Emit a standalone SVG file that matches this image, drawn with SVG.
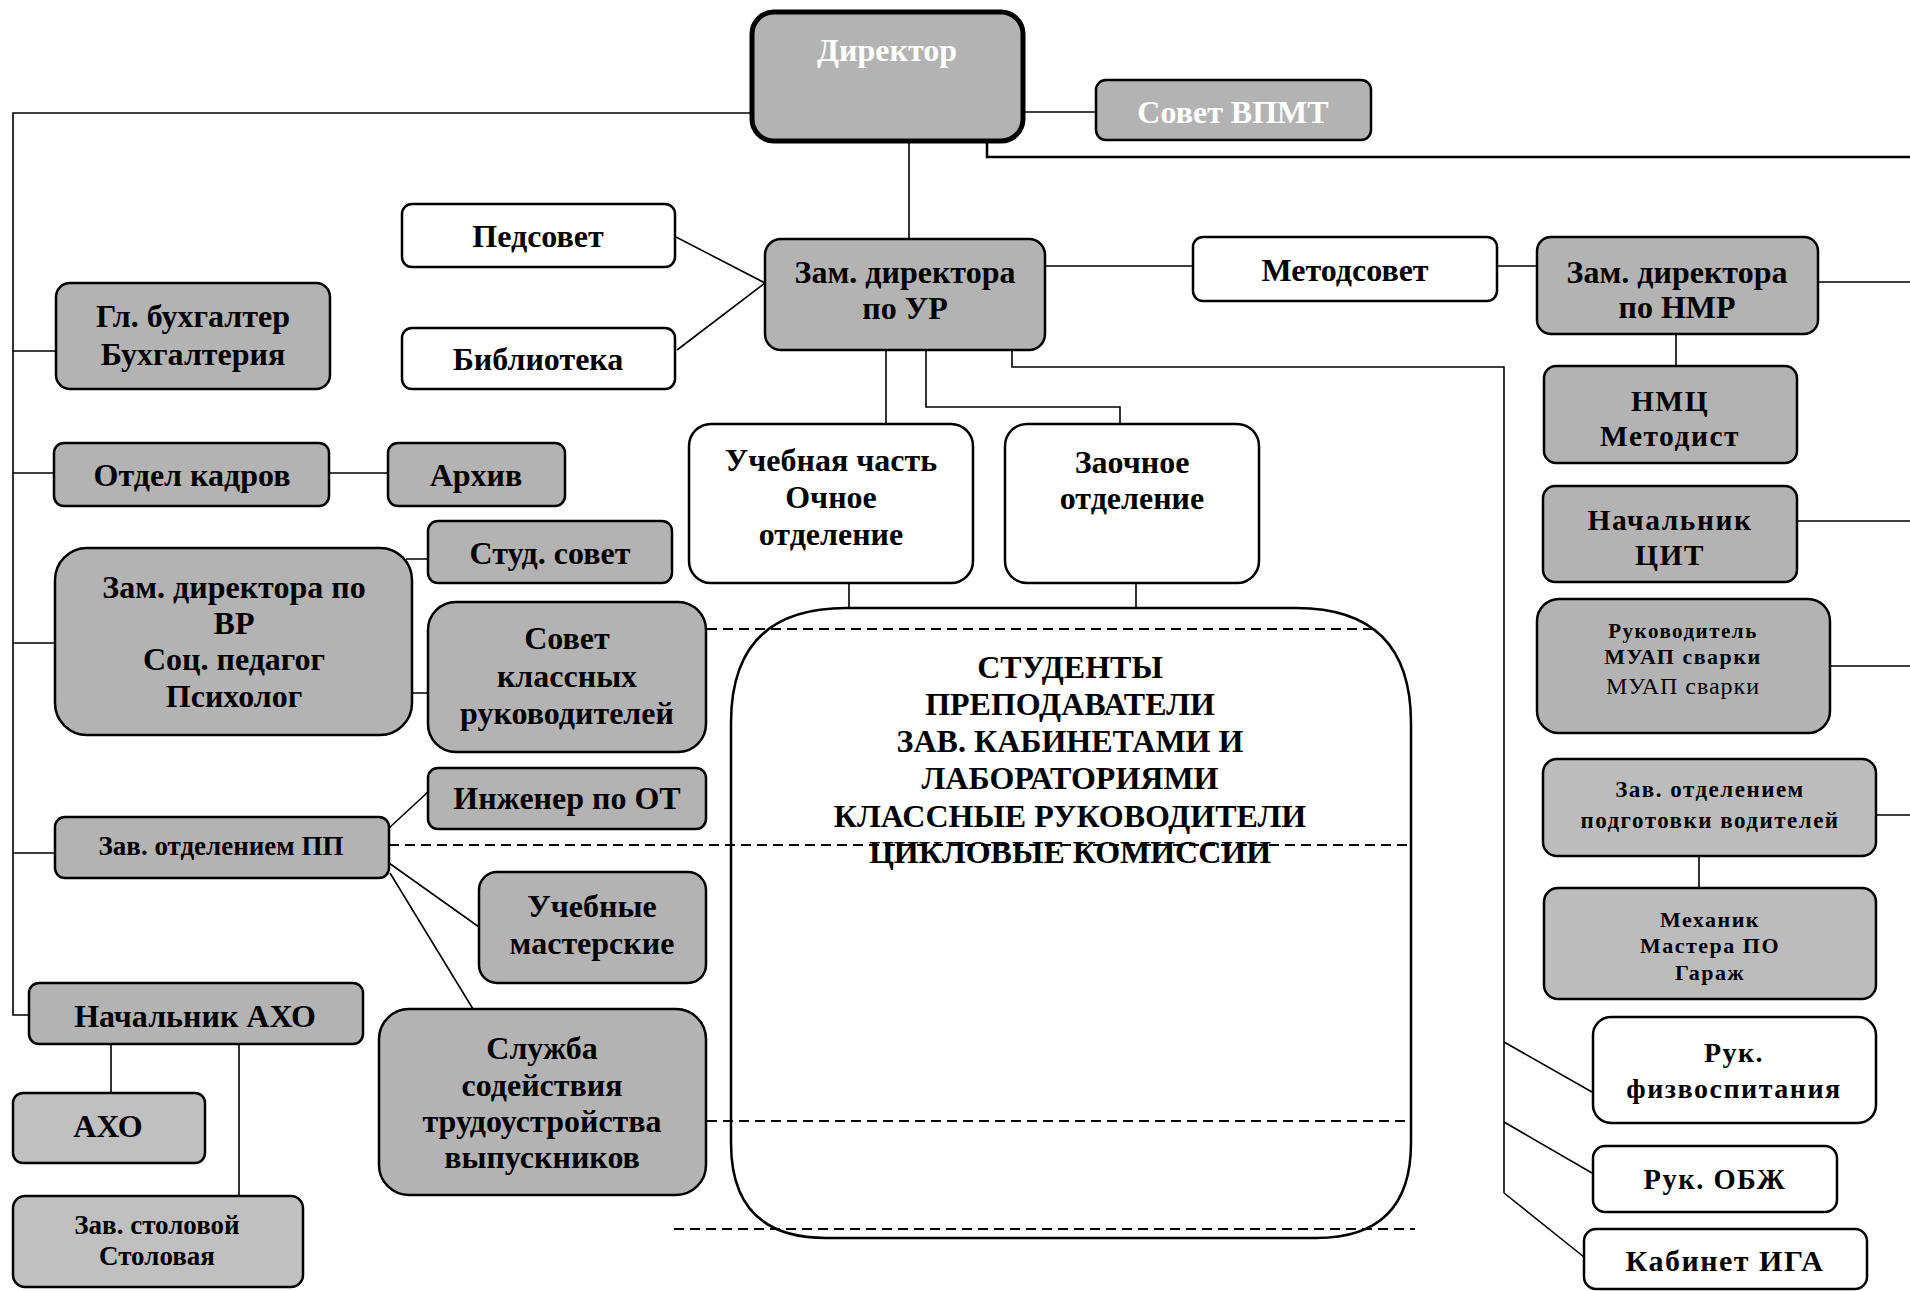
<svg xmlns="http://www.w3.org/2000/svg" width="1910" height="1291" viewBox="0 0 1910 1291">
<style>
.b{stroke:#000;stroke-width:2.5}
.g{fill:#b3b3b3}
.lg{fill:#c0c0c0}
.w{fill:#fff}
.t{font-family:"Liberation Serif","Times New Roman",serif;font-weight:bold;font-size:32px;text-anchor:middle;fill:#000}
.s{font-size:27px}
.r{letter-spacing:1.5px}
.c{stroke:#000;stroke-width:1.6;fill:none}
.d{stroke:#000;stroke-width:2.2;fill:none;stroke-dasharray:10 6}
</style>
<rect width="1910" height="1291" fill="#fff"/>
<g id="connectors">
<path class="c" d="M752 113H13V1015H29"/>
<path class="c" d="M1023 112H1096"/>
<path class="c" d="M987 141V157H1910" style="stroke-width:2.5"/>
<path class="c" d="M909 141V239"/>
<path class="c" d="M676 237L765 283L677 350"/>
<path class="c" d="M1045 266H1193M1497 266H1537M1818 282H1910"/>
<path class="c" d="M1676 334V366"/>
<path class="c" d="M1797 521H1910M1830 666H1910M1876 815H1910M1699 856V888"/>
<path class="c" d="M1012 350V367H1504V1193M1504 1042L1592 1092M1504 1122L1592 1173M1504 1193L1584 1257"/>
<path class="c" d="M886 350V424M926 350V407H1120V424"/>
<path class="c" d="M849 583V608M1136 583V608"/>
<path class="c" d="M13 351H56M13 473H54M329 473H388M13 643H55M406 559H428M412 693H428M13 853H55"/>
<path class="c" d="M389 828L428 792M389 863L479 927M390 873L473 1009"/>
<path class="c" d="M111 1044V1093M239 1044V1196"/>
<path class="c" d="M605 877H697"/>
</g>
<g id="n-big"><path class="b" fill="#fff" d="M731 1143V723Q731 608 846 608H1296Q1411 608 1411 723V1143Q1411 1238 1316 1238H826Q731 1238 731 1143Z"/>
<text class="t" x="1070" y="678">СТУДЕНТЫ</text>
<text class="t" x="1070" y="715">ПРЕПОДАВАТЕЛИ</text>
<text class="t" x="1070" y="752">ЗАВ. КАБИНЕТАМИ И</text>
<text class="t" x="1070" y="789">ЛАБОРАТОРИЯМИ</text>
<text class="t" x="1070" y="827">КЛАССНЫЕ РУКОВОДИТЕЛИ</text>
<text class="t" x="1070" y="863">ЦИКЛОВЫЕ КОМИССИИ</text>
</g>
<g id="dashes">
<path class="d" d="M707 629H1373M389 845H1411M707 1121H1411M674 1229H1415"/>
</g>
<g id="n-director"><rect class="g" x="752" y="12" width="271" height="129" rx="22" stroke="#000" stroke-width="5"/><text class="t" x="887" y="61" style="fill:#fff">Директор</text></g>
<g id="n-sovet"><rect class="b g" x="1096" y="80" width="275" height="60" rx="10"/><text class="t" x="1233" y="123" style="fill:#fff">Совет ВПМТ</text></g>
<g id="n-pedsovet"><rect class="b w" x="402" y="204" width="273" height="63" rx="10"/><text class="t" x="538" y="247">Педсовет</text></g>
<g id="n-bibl"><rect class="b w" x="402" y="328" width="273" height="61" rx="10"/><text class="t" x="538" y="370">Библиотека</text></g>
<g id="n-zamur"><rect class="b g" x="765" y="239" width="280" height="111" rx="16"/><text class="t" x="905" y="283">Зам. директора</text><text class="t" x="905" y="319">по УР</text></g>
<g id="n-metod"><rect class="b w" x="1193" y="237" width="304" height="64" rx="10"/><text class="t" x="1345" y="281">Методсовет</text></g>
<g id="n-zamnmr"><rect class="b g" x="1537" y="237" width="281" height="97" rx="14"/><text class="t" x="1677" y="283">Зам. директора</text><text class="t" x="1677" y="318">по НМР</text></g>
<g id="n-nmc"><rect class="b g" x="1544" y="366" width="253" height="97" rx="12"/><text class="t r" x="1670" y="411" style="font-size:29.5px">НМЦ</text><text class="t r" x="1670" y="446" style="font-size:29.5px">Методист</text></g>
<g id="n-cit"><rect class="b g" x="1543" y="486" width="254" height="96" rx="12"/><text class="t r" x="1670" y="530" style="font-size:29.5px">Начальник</text><text class="t r" x="1670" y="565" style="font-size:29.5px">ЦИТ</text></g>
<g id="n-muap"><rect class="b g" x="1537" y="599" width="293" height="134" rx="22"/><text class="t r" x="1683" y="638" style="font-size:21px">Руководитель</text><text class="t r" x="1683" y="664" style="font-size:22px">МУАП сварки</text><text class="t" x="1683" y="694" style="font-size:24px;font-weight:normal;letter-spacing:1px">МУАП сварки</text></g>
<g id="n-voditeli"><rect class="b" x="1543" y="759" width="333" height="97" rx="14" style="fill:#bcbcbc"/><text class="t r" x="1710" y="797" style="font-size:23px">Зав. отделением</text><text class="t r" x="1710" y="828" style="font-size:23px">подготовки водителей</text></g>
<g id="n-mehanik"><rect class="b" x="1544" y="888" width="332" height="111" rx="14" style="fill:#bcbcbc"/><text class="t r" x="1710" y="927" style="font-size:22px">Механик</text><text class="t r" x="1710" y="953" style="font-size:22px">Мастера ПО</text><text class="t r" x="1710" y="980" style="font-size:22px">Гараж</text></g>
<g id="n-fiz"><rect class="b w" x="1593" y="1017" width="283" height="106" rx="18"/><text class="t r" x="1734" y="1062" style="font-size:28px">Рук.</text><text class="t r" x="1734" y="1098" style="font-size:28px">физвоспитания</text></g>
<g id="n-obzh"><rect class="b w" x="1593" y="1146" width="244" height="66" rx="12"/><text class="t r" x="1715" y="1189" style="font-size:28.5px">Рук. ОБЖ</text></g>
<g id="n-iga"><rect class="b w" x="1584" y="1229" width="283" height="60" rx="12"/><text class="t r" x="1725" y="1271" style="font-size:30px">Кабинет ИГА</text></g>
<g id="n-uch"><rect class="b w" x="689" y="424" width="284" height="159" rx="22"/><text class="t" x="831" y="471">Учебная часть</text><text class="t" x="831" y="508">Очное</text><text class="t" x="831" y="545">отделение</text></g>
<g id="n-zaoch"><rect class="b w" x="1005" y="424" width="254" height="159" rx="22"/><text class="t" x="1132" y="473">Заочное</text><text class="t" x="1132" y="509">отделение</text></g>
<g id="n-buh"><rect class="b g" x="56" y="283" width="274" height="106" rx="14"/><text class="t" x="193" y="327">Гл. бухгалтер</text><text class="t" x="193" y="365">Бухгалтерия</text></g>
<g id="n-kadry"><rect class="b g" x="54" y="443" width="275" height="63" rx="10"/><text class="t" x="192" y="486">Отдел кадров</text></g>
<g id="n-arhiv"><rect class="b g" x="388" y="443" width="177" height="63" rx="10"/><text class="t" x="476" y="486">Архив</text></g>
<g id="n-stud"><rect class="b g" x="428" y="521" width="244" height="62" rx="10"/><text class="t" x="550" y="564">Студ. совет</text></g>
<g id="n-zamvr"><rect class="b g" x="55" y="548" width="357" height="187" rx="32"/><text class="t" x="234" y="598">Зам. директора по</text><text class="t" x="234" y="634">ВР</text><text class="t" x="234" y="670">Соц. педагог</text><text class="t" x="234" y="707">Психолог</text></g>
<g id="n-sovklass"><rect class="b g" x="428" y="602" width="278" height="150" rx="28"/><text class="t" x="567" y="649">Совет</text><text class="t" x="567" y="687">классных</text><text class="t" x="567" y="724">руководителей</text></g>
<g id="n-ingot"><rect class="b g" x="428" y="768" width="278" height="61" rx="10"/><text class="t" x="567" y="809">Инженер по ОТ</text></g>
<g id="n-zavpp"><rect class="b g" x="55" y="817" width="334" height="61" rx="10"/><text class="t s" x="221" y="855">Зав. отделением ПП</text></g>
<g id="n-masters"><rect class="b g" x="479" y="872" width="227" height="111" rx="18"/><text class="t" x="592" y="917">Учебные</text><text class="t" x="592" y="954">мастерские</text></g>
<g id="n-sluzhba"><rect class="b g" x="379" y="1009" width="327" height="186" rx="30"/><text class="t" x="542" y="1059">Служба</text><text class="t" x="542" y="1096">содействия</text><text class="t" x="542" y="1132">трудоустройства</text><text class="t" x="542" y="1168">выпускников</text></g>
<g id="n-naxo"><rect class="b g" x="29" y="983" width="334" height="61" rx="10"/><text class="t" x="195" y="1027">Начальник АХО</text></g>
<g id="n-axo"><rect class="b lg" x="13" y="1093" width="192" height="70" rx="10"/><text class="t" x="108" y="1137">АХО</text></g>
<g id="n-stol"><rect class="b lg" x="13" y="1196" width="290" height="91" rx="12"/><text class="t s" x="157" y="1234">Зав. столовой</text><text class="t s" x="157" y="1265">Столовая</text></g>
</svg>
